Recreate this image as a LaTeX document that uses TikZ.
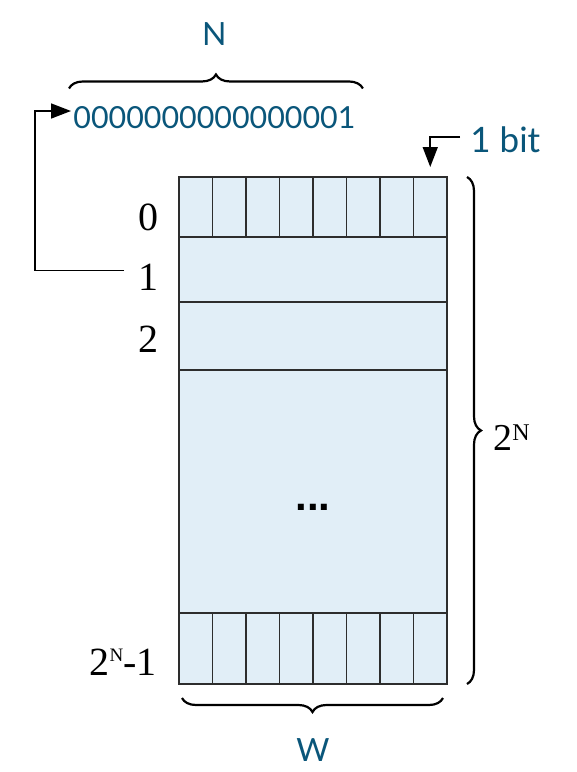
\documentclass[tikz,border=0pt]{standalone}
\usepackage{fontspec}
\setmainfont{Liberation Serif}
\newfontfamily\labelfont{Lato}
\newfontfamily\dotfont{Liberation Sans}
\usetikzlibrary{positioning,calc,arrows.meta,decorations.pathreplacing}
\definecolor{memfill}{RGB}{225,238,247}
\definecolor{memline}{RGB}{45,45,45}
\definecolor{tealtext}{RGB}{10,86,122}

\newcommand{\supN}[2]{\raisebox{#1}{\fontsize{#2}{#2}\selectfont N}}

\tikzset{
  memrow/.style={draw=memline, line width=1pt, fill=memfill, minimum width=134pt,
    inner sep=0pt, outer sep=0pt, anchor=north west},
  addr/.style={font=\fontsize{20}{20}\selectfont, inner sep=2pt},
  bluetext/.style={text=tealtext, font=\labelfont\fontsize{16}{16}\selectfont, inner sep=1pt},
  ptr/.style={draw=black, line width=0.8pt, -{Triangle[length=10pt,width=7.5pt]}},
  curly/.style={decorate, decoration={brace, amplitude=7pt}, line width=1.1pt}
}

\begin{document}
\begin{tikzpicture}[x=0.5pt,y=-0.5pt]
\useasboundingbox (0,0) rectangle (577,772);

% memory words
\node[memrow, minimum height=30pt] (row0) at (179,177) {};
\node[memrow, minimum height=32.5pt] (row1) at (row0.south west) {};
\node[memrow, minimum height=34pt] (row2) at (row1.south west) {};
\node[memrow, minimum height=121.5pt] (rowdots) at (row2.south west) {};
\node[memrow, minimum height=35.5pt] (rowlast) at (rowdots.south west) {};

% bit cells
\foreach \r in {row0,rowlast}
  \foreach \i in {1,...,7}
    \draw[memline, line width=0.75pt] ($(\r.north west)!\i/8!(\r.north east)$)
      -- ($(\r.south west)!\i/8!(\r.south east)$);

\node[font=\dotfont\bfseries\fontsize{21}{21}\selectfont, inner sep=0pt] (dots)
  at ([yshift=-8pt]rowdots.center) {...};

% addresses
\node[addr, anchor=base east] (lbl0) at ([xshift=-8pt,yshift=-11.5pt]row0.west) {0};
\node[addr, anchor=base east] (lbl1) at ([xshift=-8pt,yshift=-10.25pt]row1.west) {1};
\node[addr, anchor=base east] (lbl2) at ([xshift=-8pt,yshift=-8pt]row2.west) {2};
\node[addr, anchor=base east] (lbllast) at ([xshift=-9pt,yshift=-13.25pt]rowlast.west)
  {2\supN{7pt}{9.5}-1};

% address word
\node[bluetext, font=\labelfont\fontsize{15.2}{15.2}\selectfont, anchor=west] (bits)
  at (71,118) {0000000000000001};
\draw[curly] ([xshift=-1pt,yshift=8pt]bits.north west) -- ([xshift=2.5pt,yshift=8pt]bits.north east);
\node[bluetext, above=28.5pt of bits] (nlabel) {N};

\coordinate (bend) at (35,111);
\draw[ptr] ([xshift=-5pt,yshift=3.25pt]lbl1.west) -| (bend) -- (bend -| bits.west);

% one bit
\node[bluetext, font=\labelfont\fontsize{17.5}{17.5}\selectfont, anchor=west] (onebit)
  at (468,140) {1 bit};
\coordinate (lastcell) at ($(row0.north west)!15/16!(row0.north east)$);
\draw[ptr, shorten >=5pt] ([xshift=-4pt,yshift=1.5pt]onebit.west) -| (lastcell);

% sizes
\draw[curly] ([xshift=10pt]row0.north east) -- ([xshift=10pt]rowlast.south east);
\node[addr, font=\fontsize{19}{19}\selectfont, anchor=base west] (count)
  at ([xshift=21pt,yshift=-9.75pt]$(row0.north east)!0.5!(rowlast.south east)$)
  {2\supN{5pt}{12}};

\draw[curly, decoration={mirror}] ([xshift=1.5pt,yshift=-7pt]rowlast.south west)
  -- ([xshift=-2pt,yshift=-7pt]rowlast.south east);
\node[bluetext, below=26pt of rowlast] (wlabel) {W};
\end{tikzpicture}
\end{document}
